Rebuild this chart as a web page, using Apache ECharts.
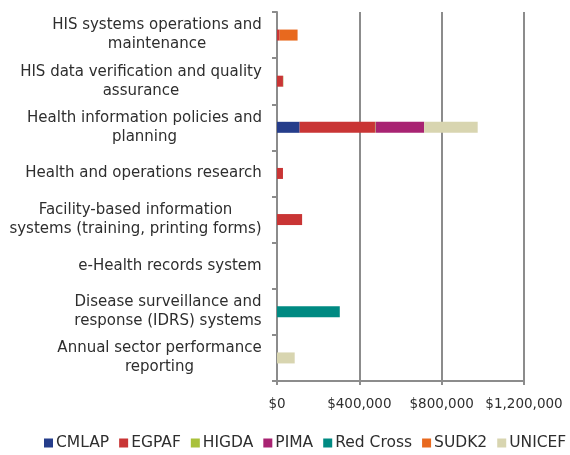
<!DOCTYPE html>
<html><head><meta charset="utf-8">
<script src="https://cdn.jsdelivr.net/npm/echarts@6/dist/echarts.min.js"></script>
<style>html,body{margin:0;padding:0;background:#fff}#c{width:570px;height:455px}</style>
</head><body><div id="c"></div>
<script>
const categories = [
  "HIS systems operations and\nmaintenance",
  "HIS data verification and quality\nassurance",
  "Health information policies and\nplanning",
  "Health and operations research",
  "Facility-based information\nsystems (training, printing forms)",
  "e-Health records system",
  "Disease surveillance and\nresponse (IDRS) systems",
  "Annual sector performance\nreporting"
];
const seriesNames = ["CMLAP","EGPAF","HIGDA","PIMA","Red Cross","SUDK2","UNICEF"];
const CMLAP    = [0, 0, 110000, 0, 0, 0, 0, 0];
const EGPAF    = [13000, 29000, 366000, 29000, 122000, 0, 0, 0];
const HIGDA    = [0, 0, 3000, 0, 0, 0, 0, 0];
const PIMA     = [0, 0, 236000, 0, 0, 0, 0, 0];
const RedCross = [0, 0, 0, 0, 0, 0, 305000, 0];
const SUDK2    = [87000, 0, 0, 0, 0, 0, 0, 0];
const UNICEF   = [0, 4000, 260000, 0, 0, 0, 0, 86000];
const xTicks = [0, 400000, 800000, 1200000];

const values = [CMLAP, EGPAF, HIGDA, PIMA, RedCross, SUDK2, UNICEF];
const colors = ["#253d8b","#c93535","#a9c13a","#a82372","#008a82","#e8691e","#d8d5b0"];
const FONT = "DejaVu Sans";
const FS = 15;
const TXT = '#2e2e2e';

// measure label widths to center lines inside right-aligned blocks
const cv = document.createElement('canvas').getContext('2d');
cv.font = FS + "px '" + FONT + "'";
const rich = {};
categories.forEach((c, i) => {
  const w = Math.max(...c.split("\n").map(s => cv.measureText(s).width));
  rich['l' + i] = {width: Math.ceil(w), align: 'center', fontFamily: FONT, fontSize: FS, color: TXT, lineHeight: 19};
});

const chart = echarts.init(document.getElementById('c'));
chart.setOption({
  animation: false,
  textStyle: {fontFamily: FONT},
  grid: {left: 277, top: 12, right: 46, bottom: 74, containLabel: false},
  legend: {
    top: 435, left: 44, width: 540, padding: 0,
    itemWidth: 9, itemHeight: 9, itemGap: 10,
    icon: 'rect',
    textStyle: {fontFamily: FONT, fontSize: 15.5, color: TXT, padding: [0,0,0,-2]},
    data: seriesNames
  },
  xAxis: {
    type: 'value', min: xTicks[0], max: xTicks[xTicks.length-1], interval: xTicks[1]-xTicks[0],
    axisLine: {show: true, lineStyle: {color: '#8c8c8c', width: 2}},
    axisTick: {show: true, length: 4, lineStyle: {color: '#8c8c8c', width: 2}},
    splitLine: {show: true, lineStyle: {color: '#8c8c8c', width: 2}},
    axisLabel: {fontFamily: FONT, fontSize: 13.5, color: TXT, margin: 16,
      formatter: v => '$' + v.toLocaleString('en-US')}
  },
  yAxis: {
    type: 'category', inverse: true, data: categories,
    axisLine: {show: true, lineStyle: {color: '#8c8c8c', width: 2}},
    axisTick: {show: true, length: 5, lineStyle: {color: '#8c8c8c', width: 2}},
    axisLabel: {
      margin: 15, align: 'right',
      formatter: (v, i) => v.split("\n").map(s => '{l' + i + '|' + s + '}').join("\n"),
      rich: rich
    }
  },
  series: seriesNames.map((n, k) => ({
    name: n, type: 'bar', stack: 'total', barWidth: 11,
    itemStyle: {color: colors[k]},
    data: values[k]
  }))
});
</script></body></html>
